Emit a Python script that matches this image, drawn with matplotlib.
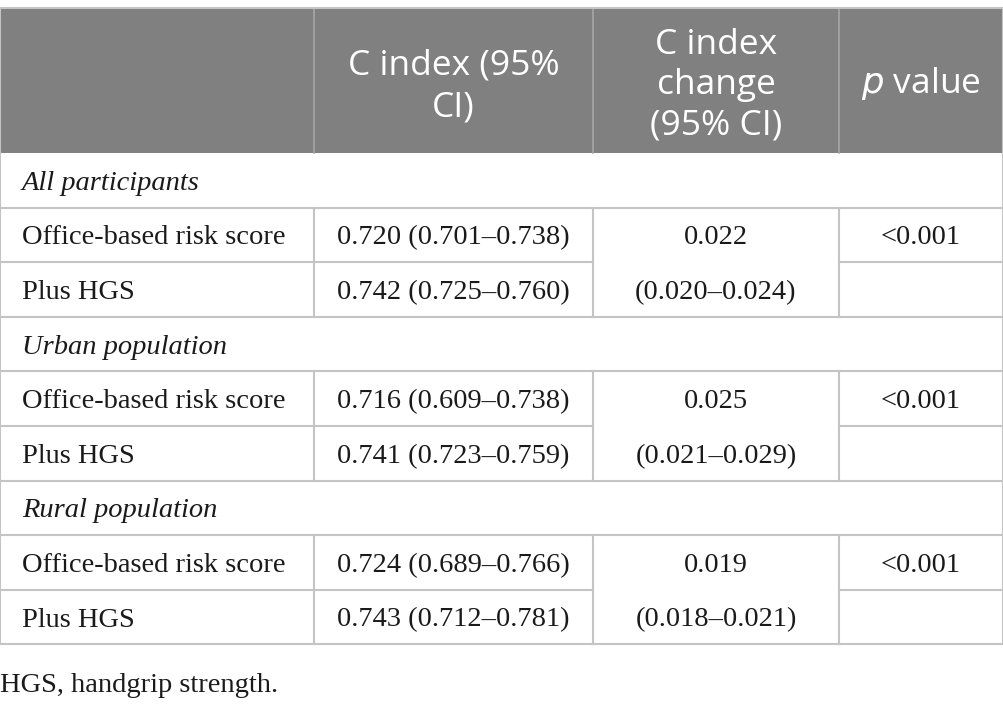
import matplotlib
matplotlib.use("Agg")
import matplotlib.pyplot as plt
from matplotlib.patches import Rectangle

# ---- data ----
header_cols = [[], ["C index (95%", "CI)"], ["C index", "change", "(95% CI)"], ["$\\it{p}$ value"]]
groups = ["All participants", "Urban population", "Rural population"]
models = ["Office-based risk score", "Plus HGS"]
c_index = [
    ["0.720 (0.701–0.738)", "0.742 (0.725–0.760)"],
    ["0.716 (0.609–0.738)", "0.741 (0.723–0.759)"],
    ["0.724 (0.689–0.766)", "0.743 (0.712–0.781)"],
]
c_change = ["0.022", "0.025", "0.019"]
c_change_ci = ["(0.020–0.024)", "(0.021–0.029)", "(0.018–0.021)"]
p_values = ["<0.001", "<0.001", "<0.001"]
footnote = "HGS, handgrip strength."

# ---- layout (pixels) ----
W, H = 1004, 726
col_x = [0, 314, 593, 839, 1003]
top, head_bot = 8, 153
row_h = 54.6
line_c = "#c4c4c4"
head_line_c = "#a6a6a6"
head_fill = "#808080"
txt_c = "#1a1a1a"

fig = plt.figure(figsize=(W / 100, H / 100), dpi=100)
ax = fig.add_axes([0, 0, 1, 1])
ax.set_xlim(0, W)
ax.set_ylim(H, 0)
ax.axis("off")

sans = "Open Sans"
serif = "Liberation Serif"
hfs = 25.5
bfs = 20.5
boff = 9.5  # baseline offset from row centre

# header
ax.add_patch(Rectangle((col_x[0], top), col_x[-1] - col_x[0], head_bot - top,
                       facecolor=head_fill, edgecolor="none", zorder=0))
for x in col_x[1:-1]:
    ax.plot([x, x], [top, head_bot], color=head_line_c, lw=1.2, zorder=1)
ax.plot([0, col_x[-1]], [top, top], color=line_c, lw=1.5, zorder=1)
ax.plot([0, 0], [top, head_bot], color=line_c, lw=1.5, zorder=1)
ax.plot([col_x[-1], col_x[-1]], [top, head_bot], color=line_c, lw=1.5, zorder=1)

head_baselines = {3: [54, 94, 134], 2: [75, 116], 1: [93]}
for i, lines in enumerate(header_cols):
    if not lines:
        continue
    cx = (col_x[i] + col_x[i + 1]) / 2
    bl = head_baselines[len(lines)]
    for ln, yb in zip(lines, bl):
        ax.text(cx, yb, ln, ha="center", va="baseline",
                fontsize=hfs, family=sans, color="white")

# body
y = head_bot
xl = 22
for g in range(len(groups)):
    ax.text(xl, y + row_h / 2 + boff, groups[g], ha="left", va="baseline",
            fontsize=bfs, family=serif, style="italic", color=txt_c)
    ax.plot([0, 0], [y, y + row_h], color=line_c, lw=1.5)
    ax.plot([col_x[-1], col_x[-1]], [y, y + row_h], color=line_c, lw=1.5)
    y1 = y + row_h
    ax.plot([0, col_x[-1]], [y1, y1], color=line_c, lw=1.5)
    y2 = y1 + row_h
    y3 = y2 + row_h
    for r in range(2):
        yy = y1 + r * row_h + row_h / 2 + boff
        ax.text(xl, yy, models[r], ha="left", va="baseline",
                fontsize=bfs, family=serif, color=txt_c)
        ax.text((col_x[1] + col_x[2]) / 2, yy, c_index[g][r],
                ha="center", va="baseline", fontsize=bfs, family=serif, color=txt_c)
    ax.text((col_x[2] + col_x[3]) / 2, y1 + row_h / 2 + boff, c_change[g],
            ha="center", va="baseline", fontsize=bfs, family=serif, color=txt_c)
    ax.text((col_x[2] + col_x[3]) / 2, y2 + row_h / 2 + boff, c_change_ci[g],
            ha="center", va="baseline", fontsize=bfs, family=serif, color=txt_c)
    ax.text((col_x[3] + col_x[4]) / 2, y1 + row_h / 2 + boff, p_values[g],
            ha="center", va="baseline", fontsize=bfs, family=serif, color=txt_c)
    ax.plot([0, col_x[2]], [y2, y2], color=line_c, lw=1.5)
    ax.plot([col_x[3], col_x[-1]], [y2, y2], color=line_c, lw=1.5)
    ax.plot([0, col_x[-1]], [y3, y3], color=line_c, lw=1.5)
    for x in col_x:
        ax.plot([x, x], [y1, y3], color=line_c, lw=1.5)
    y = y3

ax.text(0, 692, footnote, ha="left", va="baseline", fontsize=bfs, family=serif,
        color=txt_c)

fig.savefig("out.png", dpi=100)
